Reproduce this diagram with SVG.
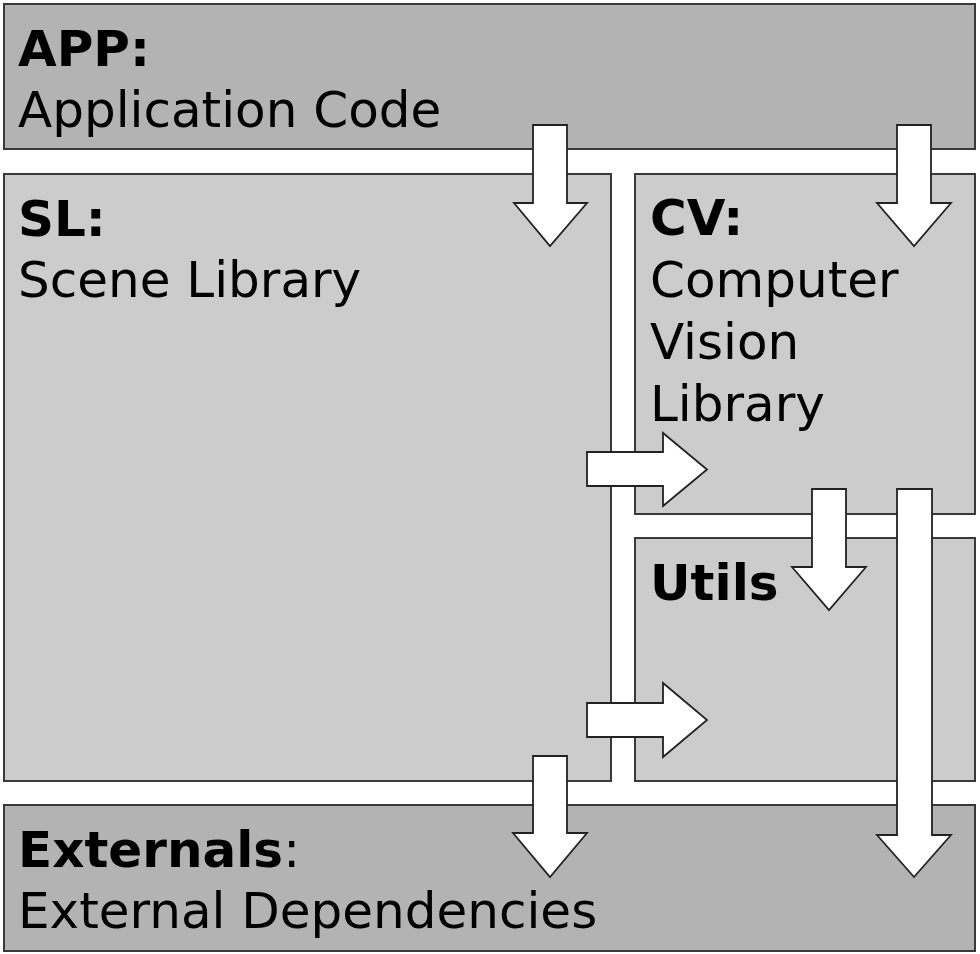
<svg xmlns="http://www.w3.org/2000/svg" width="980" height="954" viewBox="0 0 980 954">
<style>
.dark{fill:#b3b3b3;stroke:#3a3a3a;stroke-width:2}
.light{fill:#cccccc;stroke:#3a3a3a;stroke-width:2}
text{font-family:"DejaVu Sans","Liberation Sans",sans-serif;font-size:50px;fill:#000}
.b{font-weight:bold}
.arrow{fill:#fff;stroke:#222;stroke-width:1.8;stroke-linejoin:miter}
</style>
<rect x="0" y="0" width="980" height="954" fill="#fff"/>
<g id="app">
<rect class="dark" x="4" y="4" width="971" height="145"/>
<text x="18" y="66" class="b">APP:</text>
<text x="18" y="127">Application Code</text>
</g>
<g id="sl">
<rect class="light" x="4" y="174" width="607" height="607"/>
<text x="18" y="236" class="b">SL:</text>
<text x="18" y="297">Scene Library</text>
</g>
<g id="cv">
<rect class="light" x="635" y="174" width="340" height="340"/>
<text x="650" y="235" class="b">CV:</text>
<text x="650" y="297">Computer</text>
<text x="650" y="359">Vision</text>
<text x="650" y="421">Library</text>
</g>
<g id="utils">
<rect class="light" x="635" y="538" width="340" height="243"/>
<text x="650" y="600" class="b">Utils</text>
</g>
<g id="externals">
<rect class="dark" x="4" y="805" width="971" height="146"/>
<text x="18" y="867"><tspan class="b">Externals</tspan>:</text>
<text x="18" y="928">External Dependencies</text>
</g>
<g id="connectors">
<path class="arrow" d="M533,125 H567 V203 H587 L550,246 L514,203 H533 Z"/>
<path class="arrow" d="M897,125 H931 V203 H951 L914,246 L877,203 H897 Z"/>
<path class="arrow" d="M587,452 H663 V433 L707,469.5 L663,506 V486 H587 Z"/>
<path class="arrow" d="M587,703 H663 V683 L707,720 L663,757 V737 H587 Z"/>
<path class="arrow" d="M812,489 H846 V567 H866 L829,610 L792,567 H812 Z"/>
<path class="arrow" d="M897,489 H932 V835 H951 L914,877 L877,835 H897 Z"/>
<path class="arrow" d="M533,756 H567 V833 H587 L550,877 L513,833 H533 Z"/>
</g>
</svg>
